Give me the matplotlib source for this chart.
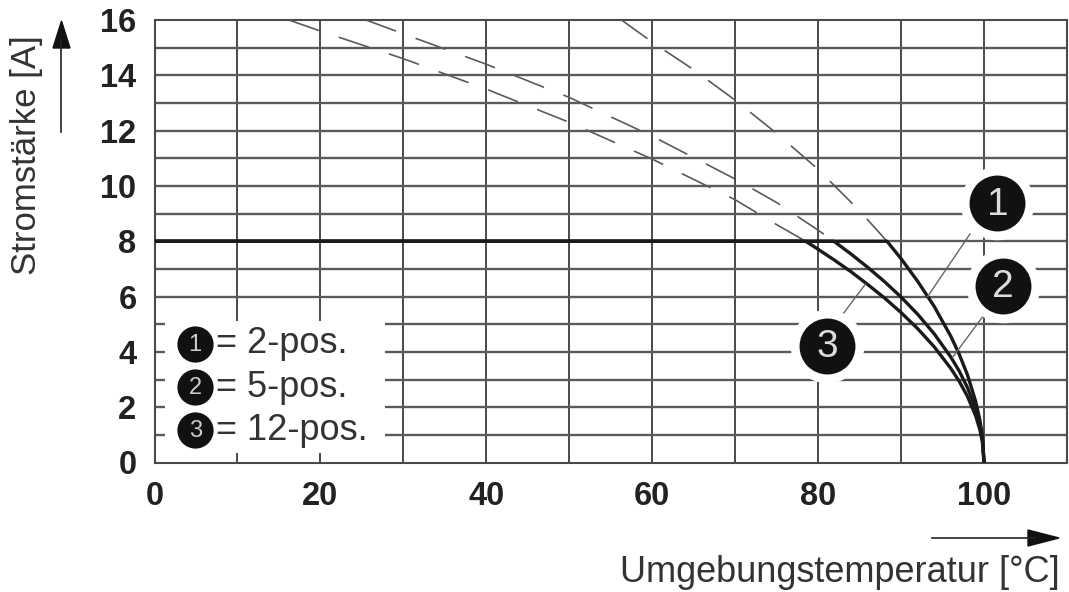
import matplotlib
matplotlib.use("Agg")
import matplotlib.pyplot as plt
import matplotlib.patches as mpatches
from matplotlib.lines import Line2D

plt.rcParams['font.family'] = ['Liberation Sans', 'DejaVu Sans']

# ---------------- data ----------------
plateau = 8.0

# 2-pos. (curve 1)
c1_dash_x = [56.3, 60, 65, 70, 75, 80, 85, 88.3]
c1_dash_y = [16.0, 15.2, 14.2, 13.1, 11.9, 10.6, 9.1, 8.0]
c1_x = [0, 88.3, 90, 92, 94, 96, 97, 98, 99, 99.5, 99.8, 100]
c1_y = [8.0, 8.0, 7.37, 6.55, 5.64, 4.56, 3.92, 3.17, 2.2, 1.53, 0.95, 0.0]

# 5-pos. (curve 2)
c2_dash_x = [25.5, 30, 40, 50, 60, 70, 75, 80, 81.9]
c2_dash_y = [16.0, 15.5, 14.4, 13.2, 11.8, 10.25, 9.4, 8.4, 8.0]
c2_x = [0, 81.9, 84, 86, 88, 90, 92, 94, 96, 97, 98, 99, 99.5, 99.8, 100]
c2_y = [8.0, 8.0, 7.53, 7.05, 6.54, 5.98, 5.36, 4.65, 3.81, 3.31, 2.71, 1.93, 1.37, 0.88, 0.0]

# 12-pos. (curve 3)
c3_dash_x = [16.2, 20, 30, 40, 50, 60, 70, 75, 78.5]
c3_dash_y = [16.0, 15.6, 14.6, 13.5, 12.3, 10.97, 9.5, 8.6, 8.0]
c3_x = [0, 78.5, 80, 82, 84, 86, 88, 90, 92, 94, 96, 97, 98, 99, 99.5, 99.8, 100]
c3_y = [8.0, 8.0, 7.71, 7.31, 6.89, 6.43, 5.95, 5.42, 4.84, 4.18, 3.40, 2.94, 2.39, 1.68, 1.18, 0.74, 0.0]

legend_labels = ["= 2-pos.", "= 5-pos.", "= 12-pos."]
legend_nums = ["1", "2", "3"]

x_ticks = [0, 20, 40, 60, 80, 100]
y_ticks = [0, 2, 4, 6, 8, 10, 12, 14, 16]
x_label = "Umgebungstemperatur [°C]"
y_label = "Stromstärke [A]"

# callouts: number, circle centre, line start, line end
callouts = [
    ("1", (101.6, 9.37), (98.3, 8.26), (93.2, 6.0)),
    ("2", (102.3, 6.38), (99.9, 5.3), (96.2, 3.8)),
    ("3", (81.1, 4.23), (83.0, 5.37), (85.7, 6.45)),
]

# ---------------- figure ----------------
W, H = 1069, 592
fig = plt.figure(figsize=(W / 100, H / 100), dpi=100)
ax = fig.add_axes([154.5 / W, 1 - 462.5 / H, (1067 - 154.5) / W, (462.5 - 20) / H])
ax.set_xlim(0, 110)
ax.set_ylim(0, 16)

grid_col = '#4a4a4a'
for xv in range(10, 110, 10):
    ax.axvline(xv, color=grid_col, lw=1.4, zorder=1)
for yv in range(1, 16):
    ax.axhline(yv, color='#5a5a5a', lw=1.7, zorder=1)
for sp in ax.spines.values():
    sp.set_color(grid_col)
    sp.set_linewidth(1.5)

ax.set_xticks(x_ticks)
ax.set_yticks(y_ticks)
ax.tick_params(length=0, labelsize=23.5, labelcolor='#222222')
for lab in ax.get_xticklabels() + ax.get_yticklabels():
    lab.set_fontweight('bold')
ax.tick_params(axis='x', pad=13)
ax.tick_params(axis='y', pad=13)

# white legend box hiding the grid
ax.add_patch(mpatches.Rectangle((1.3, 0.35), 26.5, 4.78, facecolor='white',
                                edgecolor='none', zorder=2))

# dashed extensions
dash_lw = 1.2
ds = (0, (23 / dash_lw, 15 / dash_lw))
for dx, dy in [(c1_dash_x, c1_dash_y), (c2_dash_x, c2_dash_y), (c3_dash_x, c3_dash_y)]:
    ax.plot(dx, dy, color='#5a5a5a', lw=dash_lw, linestyle=ds, zorder=3)

# solid curves
for cx, cy in [(c3_x, c3_y), (c2_x, c2_y), (c1_x, c1_y)]:
    ax.plot(cx, cy, color='#1a1a1a', lw=2.4, solid_capstyle='butt', zorder=4)

# callouts
for num, (cxc, cyc), (sx, sy), (ex, ey) in callouts:
    ax.plot([sx, ex], [sy, ey], color='#666666', lw=1.0, zorder=5)
    ax.scatter([cxc], [cyc], s=2800, color='white', zorder=6, clip_on=False, linewidths=0)
    ax.scatter([cxc], [cyc], s=1620, color='#111111', zorder=7, clip_on=False, linewidths=0)
    ax.text(cxc, cyc - 0.05, num, color='#dddddd', fontsize=28, ha='center', va='center',
            zorder=8, clip_on=False)

# legend
leg_y = [4.3, 2.72, 1.17]
for num, lab, ly in zip(legend_nums, legend_labels, leg_y):
    ax.scatter([4.9], [ly], s=680, color='#111111', zorder=7, linewidths=0)
    ax.text(4.9, ly - 0.04, num, color='#cccccc', fontsize=17, ha='center', va='center', zorder=8)
    ax.text(7.4, ly, lab, color='#333333', fontsize=26, ha='left', va='center', zorder=8)

# axis labels
fig.text(1060 / W, 1 - 582 / H, x_label, ha='right', va='baseline', fontsize=26, color='#333333')
fig.text(27 / W, 1 - 155 / H, y_label, ha='center', va='center', rotation=90, fontsize=25,
         color='#333333')

# arrows (figure pixel coordinates)
def fx(px):
    return px / W

def fy(py):
    return 1 - py / H

fig.add_artist(Line2D([fx(61), fx(61)], [fy(132), fy(40)], color='#222222', lw=1.2,
                      transform=fig.transFigure))
fig.add_artist(mpatches.Polygon([[fx(53), fy(48)], [fx(70), fy(48)], [fx(61.5), fy(21)]],
                                closed=True, color='#111111', transform=fig.transFigure))
fig.add_artist(Line2D([fx(932), fx(1035)], [fy(538), fy(538)], color='#222222', lw=1.2,
                      transform=fig.transFigure))
fig.add_artist(mpatches.Polygon([[fx(1028), fy(530)], [fx(1028), fy(546)], [fx(1059), fy(538)]],
                                closed=True, color='#111111', transform=fig.transFigure))

fig.savefig("out.png", dpi=100, facecolor='white')
